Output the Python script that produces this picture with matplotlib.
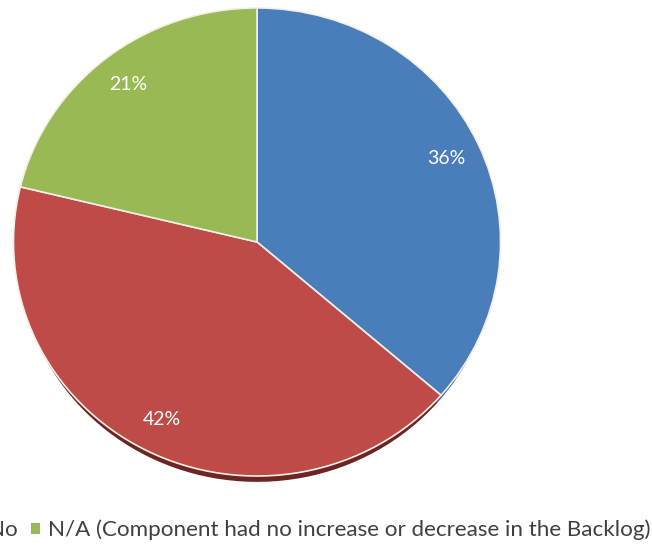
import matplotlib
matplotlib.use("Agg")
import matplotlib.pyplot as plt
from matplotlib.patches import Patch
import numpy as np

categories = ["Yes", "No", "N/A (Component had no increase or decrease in the Backlog)"]
values = [36, 42, 21]
labels_pct = ["36%", "42%", "21%"]
colors = ["#4a7ebb", "#be4b48", "#98b954"]
shadow_colors = ["#3a5f8c", "#6b2523", "#5a6e32"]

plt.rcParams['font.family'] = ['Lato', 'DejaVu Sans']

fig = plt.figure(figsize=(6.52, 5.46), dpi=100)
ax = fig.add_axes([0, 0, 1, 1])

# shadow layer (offset pie)
ax.pie(values, colors=shadow_colors, startangle=90, counterclock=False,
       center=(0.0, -0.045), radius=0.98,
       wedgeprops=dict(linewidth=0))

wedges, _ = ax.pie(values, colors=colors, startangle=90, counterclock=False,
                   center=(0, 0), radius=1.0,
                   wedgeprops=dict(linewidth=1.2, edgecolor="#f4f0e6"))

total = sum(values)
ang = 90.0
for v, lab in zip(values, labels_pct):
    span = v / total * 360.0
    mid = np.deg2rad(ang - span / 2)
    ax.text(0.855 * np.cos(mid), 0.855 * np.sin(mid), lab, color="white",
            fontsize=14, ha="center", va="center")
    ang -= span

ax.set_xlim(-1.0554, 1.622)
ax.set_ylim(-1.299, 1.034)
ax.set_aspect('auto')
ax.axis('off')

handles = [Patch(facecolor=c, edgecolor='none') for c in colors]
leg = fig.legend(handles, categories, ncol=3, loc='center right',
                 bbox_to_anchor=(1.028, 0.029), frameon=False, fontsize=16.15,
                 handlelength=0.4, handleheight=0.4, handletextpad=0.35,
                 columnspacing=0.6, labelcolor="#404040")

fig.savefig("out.png", dpi=100)
